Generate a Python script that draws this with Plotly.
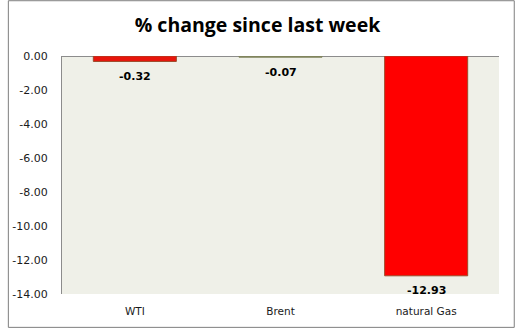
import plotly.graph_objects as go

# Weekly percentage change by commodity
categories = ["WTI", "Brent", "natural Gas"]
pct_change = [-0.32, -0.07, -12.93]
bar_colors = ["#E8150C", "#80845E", "#FF0000"]
outline_colors = ["#9C4A2A", "#80845E", "#9C4A2A"]
tick_values = [0, -2, -4, -6, -8, -10, -12, -14]
tick_labels = ["0.00", "-2.00", "-4.00", "-6.00", "-8.00", "-10.00", "-12.00", "-14.00"]

W, H = 515, 329
L, R, T, B = 55, 16, 56, 34

fig = go.Figure(
    go.Bar(
        x=categories,
        y=pct_change,
        width=0.57,
        marker=dict(color=bar_colors, line=dict(color=outline_colors, width=1)),
        cliponaxis=False,
    )
)

# Value labels just below the end of each bar
for cat, val in zip(categories, pct_change):
    fig.add_annotation(
        x=cat,
        y=val,
        text=f"<b>{val:.2f}</b>",
        showarrow=False,
        yanchor="middle",
        yshift=-15,
        font=dict(family="DejaVu Sans", size=11, color="#000000"),
    )

pw, ph = W - L - R, H - T - B
fig.update_layout(
    width=W,
    height=H,
    margin=dict(l=L, r=R, t=T, b=B),
    paper_bgcolor="#FFFFFF",
    plot_bgcolor="#EFF0E8",
    showlegend=False,
    title=dict(
        text="<b>% change since last week</b>",
        x=0.5,
        xanchor="center",
        y=1 - 25 / H,
        yanchor="middle",
        font=dict(family="Open Sans", size=19.5, color="#000000"),
    ),
    xaxis=dict(
        showline=False,
        showgrid=False,
        ticks="",
        ticklabelstandoff=9,
        tickfont=dict(family="DejaVu Sans", size=10.5, color="#1A1A1A"),
    ),
    yaxis=dict(
        range=[-14, 0],
        tickvals=tick_values,
        ticktext=tick_labels,
        showgrid=False,
        showline=True,
        linecolor="#8C8C8C",
        linewidth=1,
        zeroline=True,
        zerolinecolor="#8C8C8C",
        zerolinewidth=1,
        ticks="",
        ticklabelstandoff=11,
        tickfont=dict(family="DejaVu Sans", size=11, color="#1A1A1A"),
    ),
    shapes=[
        dict(
            type="rect",
            xref="paper",
            yref="paper",
            x0=-(L - 0.5) / pw,
            x1=1 + (R - 0.5) / pw,
            y0=-(B - 0.5) / ph,
            y1=1 + (T - 0.5) / ph,
            line=dict(color="#7F7F7F", width=1),
            fillcolor="rgba(0,0,0,0)",
            layer="below",
        )
    ],
)

fig.write_html("out.html")
